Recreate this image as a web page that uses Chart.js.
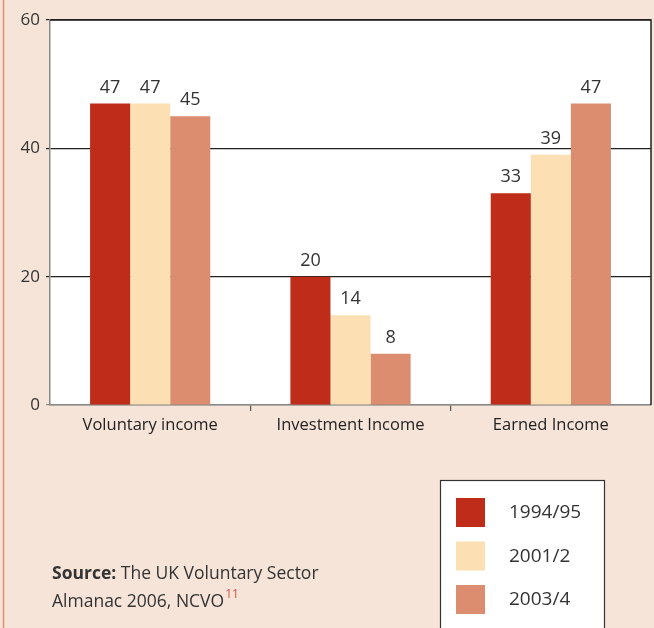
<!DOCTYPE html>
<html>
<head>
<meta charset="utf-8">
<script src="https://cdn.jsdelivr.net/npm/chart.js@4"></script>
<style>
  html, body { margin: 0; padding: 0; background: #f6e4d9; }
  canvas { display: block; }
</style>
</head>
<body>
<canvas id="chart" width="654" height="628"></canvas>
<script>
// chart data
const categories = ["Voluntary income", "Investment Income", "Earned Income"];
const seriesNames = ["1994/95", "2001/2", "2003/4"];
const values1994 = [47, 20, 33];
const values2001 = [47, 14, 39];
const values2003 = [45, 8, 47];
const yTicks = [0, 20, 40, 60];
const seriesColors = ["#bf2d1a", "#fddfb4", "#dd8d6f"];

const FONT = "'Open Sans', 'DejaVu Sans', sans-serif";

// page background, frame, value labels, legend box and source note
const decorations = {
    id: "decorations",
    beforeDraw(chart) {
        const ctx = chart.ctx;
        const area = chart.chartArea;
        ctx.save();
        ctx.fillStyle = "#f6e4d9";
        ctx.fillRect(0, 0, chart.width, chart.height);
        ctx.fillStyle = "#ffffff";
        ctx.fillRect(area.left, area.top, area.right - area.left, area.bottom - area.top);
        // thin line on the left edge of the page
        ctx.strokeStyle = "#de8e76";
        ctx.lineWidth = 1.5;
        ctx.beginPath();
        ctx.moveTo(3.5, 0);
        ctx.lineTo(3.5, chart.height);
        ctx.stroke();
        ctx.restore();
    },
    afterDatasetsDraw(chart) {
        const ctx = chart.ctx;
        ctx.save();
        ctx.font = "18px " + FONT;
        ctx.fillStyle = "#333333";
        ctx.textAlign = "center";
        ctx.textBaseline = "bottom";
        chart.data.datasets.forEach((ds, i) => {
            chart.getDatasetMeta(i).data.forEach((bar, j) => {
                ctx.fillText(String(ds.data[j]), bar.x, bar.y - 7);
            });
        });
        ctx.restore();
    },
    afterDraw(chart) {
        const ctx = chart.ctx;
        const area = chart.chartArea;
        ctx.save();
        // top and right frame of the plot
        ctx.strokeStyle = "#222222";
        ctx.lineWidth = 1.5;
        ctx.beginPath();
        ctx.moveTo(area.left, area.top);
        ctx.lineTo(area.right, area.top);
        ctx.lineTo(area.right, area.bottom);
        ctx.stroke();

        // legend box
        ctx.fillStyle = "#ffffff";
        ctx.fillRect(440, 480, 164, 160);
        ctx.strokeStyle = "#333333";
        ctx.lineWidth = 1.2;
        ctx.strokeRect(440.5, 480.5, 164, 160);
        ctx.font = "19px " + FONT;
        ctx.textAlign = "left";
        ctx.textBaseline = "middle";
        seriesNames.forEach((name, i) => {
            const y = 498 + i * 43.5;
            ctx.fillStyle = seriesColors[i];
            ctx.fillRect(456, y, 29, 29);
            ctx.fillStyle = "#333333";
            ctx.fillText(name, 509, y + 15);
        });

        // source note
        ctx.textBaseline = "alphabetic";
        ctx.fillStyle = "#333333";
        ctx.font = "bold 17.5px " + FONT;
        const lead = "Source:";
        ctx.fillText(lead, 52, 579);
        const w = ctx.measureText(lead + " ").width;
        ctx.font = "17.5px " + FONT;
        ctx.fillText("The UK Voluntary Sector", 52 + w, 579);
        const line2 = "Almanac 2006, NCVO";
        ctx.fillText(line2, 52, 607);
        const w2 = ctx.measureText(line2).width;
        ctx.fillStyle = "#d9533f";
        ctx.font = "12px " + FONT;
        ctx.fillText("11", 52 + w2 + 1, 598);
        ctx.restore();
    }
};

new Chart(document.getElementById("chart"), {
    type: "bar",
    data: {
        labels: categories,
        datasets: [
            { label: seriesNames[0], data: values1994, backgroundColor: seriesColors[0] },
            { label: seriesNames[1], data: values2001, backgroundColor: seriesColors[1] },
            { label: seriesNames[2], data: values2003, backgroundColor: seriesColors[2] },
        ],
    },
    options: {
        responsive: false,
        animation: false,
        devicePixelRatio: 1,
        layout: { padding: { top: 20, right: 3, left: 0, bottom: 0 } },
        datasets: { bar: { categoryPercentage: 0.6, barPercentage: 1.0 } },
        plugins: {
            legend: { display: false },
            tooltip: { enabled: false },
        },
        scales: {
            x: {
                afterFit: (scale) => { scale.height = 223; },
                grid: {
                    offset: true,
                    drawOnChartArea: false,
                    tickLength: 6,
                    lineWidth: 1.2,
                    color: (c) => (c.type !== "tick" || c.index === 0 ? "rgba(0,0,0,0)" : "#555555"),
                },
                border: { color: "#888888", width: 1.5 },
                ticks: {
                    color: "#222222",
                    font: { family: FONT, size: 16.5 },
                    padding: 4,
                },
            },
            y: {
                min: 0,
                max: 60,
                afterFit: (scale) => { scale.width = 50; },
                afterBuildTicks: (scale) => { scale.ticks = yTicks.map((v) => ({ value: v })); },
                grid: {
                    tickLength: 4,
                    lineWidth: 1.2,
                    color: (c) => (c.tick && c.tick.value === 0 ? "#888888" : "#222222"),
                },
                border: { color: "#888888", width: 1.5 },
                ticks: {
                    color: "#333333",
                    font: { family: FONT, size: 17 },
                    padding: 6,
                },
            },
        },
    },
    plugins: [decorations],
});
</script>
</body>
</html>
